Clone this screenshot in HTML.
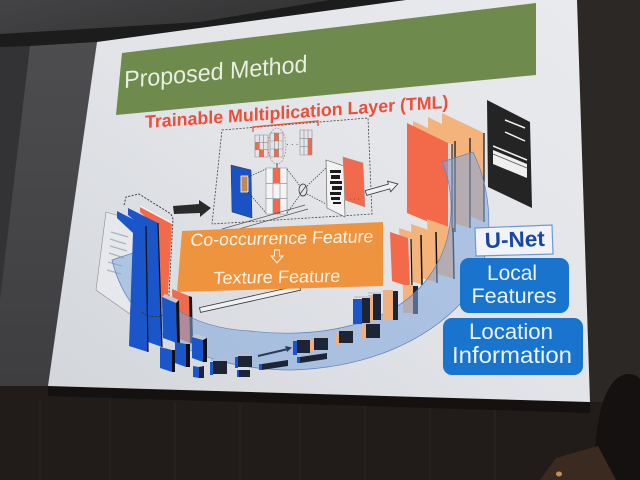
<!DOCTYPE html>
<html><head><meta charset="utf-8"><style>
html,body{margin:0;padding:0;background:#2b2826;width:640px;height:480px;overflow:hidden;}
svg{display:block;}
</style></head><body>
<svg width="640" height="480" viewBox="0 0 640 480" xmlns="http://www.w3.org/2000/svg" font-family="'Liberation Sans', 'DejaVu Sans', sans-serif">
<defs>
<linearGradient id="ceil" x1="0" y1="0" x2="1" y2="0.4">
<stop offset="0" stop-color="#444446"/><stop offset="1" stop-color="#333334"/>
</linearGradient>
<linearGradient id="slide" x1="0" y1="1" x2="1" y2="0">
<stop offset="0" stop-color="#d2d5da"/><stop offset="0.5" stop-color="#e2e4e8"/><stop offset="1" stop-color="#e8eaee"/>
</linearGradient>
<linearGradient id="lgray" x1="0" y1="0" x2="0" y2="1">
<stop offset="0" stop-color="#4d4d4f"/><stop offset="1" stop-color="#3e3e40"/>
</linearGradient>
</defs>

<rect width="640" height="480" fill="#2b2826"/>
<rect x="0" y="0" width="100" height="400" fill="#333234"/>
<polygon points="0,0 330,0 200,22 0,34" fill="url(#ceil)"/>
<polygon points="0,34 200,22 330,0 406,0 97,42 30,46 0,47" fill="#1c1c1d"/>
<polygon points="30,46 97,42 48,386 0,386 0,300" fill="url(#lgray)"/>
<polygon points="0,386 48,386 590,402 640,403 640,480 0,480" fill="#211c19"/>
<g stroke="#27211d" stroke-width="2">
<line x1="40" y1="400" x2="40" y2="480"/><line x1="110" y1="400" x2="110" y2="480"/>
<line x1="175" y1="402" x2="175" y2="480"/><line x1="240" y1="404" x2="240" y2="480"/>
<line x1="300" y1="405" x2="300" y2="480"/><line x1="365" y1="406" x2="365" y2="480"/>
<line x1="430" y1="408" x2="430" y2="480"/><line x1="495" y1="410" x2="495" y2="480"/>
</g>
<polygon points="48,386 590,402 590,413 48,396" fill="#141110"/>
<path d="M594,480 C594,420 604,376 628,374 C636,374 640,378 640,380 L640,480 Z" fill="#141110"/>
<polygon points="540,480 556,458 598,446 616,480" fill="#3a2a20"/>
<ellipse cx="559" cy="474" rx="3" ry="2.5" fill="#c89050"/>

<polygon points="97,42 406,0 577,0 590,402 48,386" fill="url(#slide)"/>

<polygon points="122,53 536,3 536,75 116,115" fill="#6e8a4c"/>
<text x="0" y="0" transform="translate(124,88) rotate(-5) skewX(-6)" font-size="24" fill="#e9eee2" textLength="184" lengthAdjust="spacingAndGlyphs">Proposed Method</text>

<text x="0" y="0" transform="translate(145,128) rotate(-3.8) skewX(-4)" font-size="18" font-weight="bold" fill="#e9503a" textLength="304" lengthAdjust="spacingAndGlyphs">Trainable Multiplication Layer (TML)</text>

<polygon points="222,130 368,118 372,214 212,224" fill="none" stroke="#444" stroke-width="0.8" stroke-dasharray="2,1.5"/>
<polyline points="253,132 253,127 318,121 318,126" fill="none" stroke="#e9503a" stroke-width="1.3"/>
<rect x="255" y="142.3" width="4.3" height="7.3" fill="#f06a4c"/>
<rect x="259.3" y="149.7" width="4.3" height="7.3" fill="#f06a4c"/>
<rect x="274.3" y="133" width="4.3" height="8" fill="#f06a4c"/>
<rect x="274.3" y="149" width="4.3" height="8" fill="#f06a4c"/>
<rect x="308" y="138.3" width="4" height="8.3" fill="#f06a4c"/>
<rect x="308" y="146.6" width="4" height="8.3" fill="#f06a4c"/>
<path d="M255,135h13v22h-13z M259.33,135v22 M263.67,135v22 M255,142.33h13 M255,149.67h13 M270,133h13v24h-13z M274.33,133v24 M278.67,133v24 M270,141h13 M270,149h13 M300,130h12v25h-12z M304,130v25 M308,130v25 M300,138.33h12 M300,146.67h12" fill="none" stroke="#8a8a8a" stroke-width="0.6"/>
<ellipse cx="277" cy="146" rx="9" ry="18" fill="none" stroke="#c06a6a" stroke-width="0.7" stroke-dasharray="1.5,1.5"/>
<text x="286" y="147" font-size="8" fill="#333">· · ·</text>
<line x1="277" y1="163" x2="277" y2="168" stroke="#333" stroke-width="0.8"/>
<polygon points="231,165 251,170 252,218 232,212" fill="#1a52c4" stroke="#333" stroke-width="0.5"/>
<rect x="241" y="176" width="7" height="16" fill="#c8884a" stroke="#fff" stroke-width="0.8"/>
<rect x="266" y="168" width="21" height="46" fill="#f4f4f4"/>
<rect x="273" y="168" width="7" height="15.3" fill="#f06a4c"/>
<rect x="273" y="198.7" width="7" height="15.3" fill="#f06a4c"/>
<path d="M266,168h21v46h-21z M273,168v46 M280,168v46 M266,183.33h21 M266,198.67h21" fill="none" stroke="#888" stroke-width="0.6"/>
<g stroke="#333" stroke-width="0.7" stroke-dasharray="1.5,1.2" fill="none">
<line x1="248" y1="177" x2="266" y2="169"/><line x1="248" y1="192" x2="266" y2="213"/>
<line x1="287" y1="169" x2="300" y2="186"/><line x1="287" y1="213" x2="300" y2="195"/>
<line x1="307" y1="186" x2="326" y2="168"/><line x1="307" y1="194" x2="326" y2="204"/>
</g>
<ellipse cx="303" cy="190" rx="4" ry="6" fill="none" stroke="#333" stroke-width="0.8"/>
<line x1="300" y1="194" x2="306" y2="186" stroke="#333" stroke-width="0.7"/>
<polygon points="326,160 344,166 345,217 327,208" fill="#f2f2f2" stroke="#555" stroke-width="0.6"/>
<g fill="#1b1b1b">
<rect x="330" y="170" width="11" height="3"/><rect x="331" y="175" width="9" height="4"/>
<rect x="330" y="181" width="12" height="3"/><rect x="332" y="186" width="10" height="4"/>
<rect x="330" y="192" width="11" height="3"/><rect x="331" y="197" width="9" height="3"/>
<rect x="333" y="202" width="8" height="2"/>
</g>
<polygon points="343,157 363,163 365,207 345,200" fill="#f26a4c" stroke="#999" stroke-width="0.6"/>
<text x="349" y="201" font-size="7" fill="#333">· · ·</text>
<polygon points="365.3,190.6 388.4,184.1 387.6,181.2 397.8,184 390.6,191.8 389.8,188.9 366.7,195.4" fill="#eef0f3" stroke="#333" stroke-width="0.8"/>
<line x1="222" y1="229" x2="305" y2="205" stroke="#555" stroke-width="0.7"/>
<line x1="232" y1="231" x2="308" y2="209" stroke="#555" stroke-width="0.7"/>

<polygon points="442,113 484,133 484,222 442,205" fill="#f5b37c"/>
<line x1="484" y1="133" x2="484" y2="222" stroke="#111" stroke-width="1.2"/>
<polygon points="428,117 470,138 470,228 428,215" fill="#f5b37c"/>
<line x1="470" y1="138" x2="470" y2="228" stroke="#111" stroke-width="1.2"/>
<polygon points="413,121 455,141 455,232 413,215" fill="#f5b37c"/>
<line x1="455" y1="141" x2="455" y2="232" stroke="#111" stroke-width="1.2"/>
<polygon points="448,143 452,144 452,232 448,230" fill="#d8d8d8"/>
<polygon points="407,123 448,143 448,230 407,213" fill="#f26a4a"/>
<line x1="452" y1="144" x2="452" y2="232" stroke="#111" stroke-width="1"/>
<polygon points="427,219 452,228 453,278 429,272" fill="#f5b37c"/>
<line x1="453" y1="228" x2="454" y2="279" stroke="#111" stroke-width="1.5"/>
<polygon points="411,224 435,232 436,282 413,276" fill="#f5b37c"/>
<line x1="436" y1="232" x2="437" y2="283" stroke="#111" stroke-width="1.5"/>
<polygon points="399,228 420,235 421,284 401,279" fill="#f5b37c"/>
<line x1="421" y1="235" x2="422" y2="285" stroke="#111" stroke-width="1.5"/>
<polygon points="408,238 411,239 412,288 410,287" fill="#d8d8d8"/>
<polygon points="390,232 408,238 410,287 392,281" fill="#f26a4a"/>
<line x1="411" y1="239" x2="412" y2="288" stroke="#111" stroke-width="1.2"/>
<rect x="403" y="285" width="10" height="28" fill="#f5b37c"/>
<rect x="413" y="286" width="5" height="28" fill="#1d2436"/>

<polygon points="106,212 140,222 130,314 96,290" fill="#e6e8ec" stroke="#8c8c90" stroke-width="0.6"/>
<g stroke="#b0b4bb" stroke-width="1.4">
<line x1="111" y1="232" x2="128" y2="237"/><line x1="110" y1="239" x2="126" y2="244"/>
<line x1="110" y1="246" x2="127" y2="251"/><line x1="109" y1="253" x2="124" y2="258"/>
<line x1="108" y1="262" x2="122" y2="266"/><line x1="107" y1="270" x2="121" y2="274"/>
</g>
<polygon points="140,205 172,222 167,310 158,306 158,228 140,212" fill="#f26a4a"/>
<polygon points="140,205 172,222 172,224 140,207" fill="#f4f4f4"/>
<polygon points="172,289 189,296 190,343 174,337" fill="#f06a4c"/>
<polygon points="189,296 192,297 193,344 190,343" fill="#1a1a1a"/>
<polygon points="199.5,307.6 299.5,285.4 300.5,290.2 200.5,312.4" fill="#eef0f3" stroke="#333" stroke-width="0.8"/>

<path d="M112,260 L136,252 C148,300 190,328 250,331 C330,340 400,320 430,275 C452,245 458,200 442,162 L473,152 C497,200 494,268 462,302 C425,342 365,368 292,370 C205,370 130,335 112,260 Z" fill="#7fa6dc" fill-opacity="0.55" stroke="#5a84c0" stroke-width="0.7"/>

<polygon points="182,231 383,222 383,286 177,292" fill="#ef943e"/>
<text x="0" y="0" transform="translate(190,246) rotate(-1.2) skewX(-6)" font-size="17.5" fill="#fbf3e8" textLength="183" lengthAdjust="spacingAndGlyphs">Co-occurrence Feature</text>
<polygon points="274.5,250 279.5,250 279.5,256 283,256 277,263 271,256 274.5,256" fill="none" stroke="#fbf3e8" stroke-width="1"/>
<text x="0" y="0" transform="translate(213,284) rotate(-1) skewX(-5)" font-size="17.5" fill="#fbf3e8" textLength="127" lengthAdjust="spacingAndGlyphs">Texture Feature</text>

<polygon points="173,206 199,204 199,200 211,208 200,217 200,213 174,214" fill="#2a2a2a"/>

<polygon points="128,208 158,223 162,347 148,342 146,230 128,215" fill="#1a55c9"/>
<line x1="158" y1="223" x2="162" y2="347" stroke="#111" stroke-width="1.2"/>
<polygon points="117,211 146,226 148,352 129,346 133,233 117,218" fill="#1a55c9"/>
<line x1="146" y1="226" x2="148" y2="352" stroke="#111" stroke-width="1.2"/>
<path d="M124,205 L126,197 L139,194 L171,214 L173,219 L168,312 M142,312 Q150,320 168,314" fill="none" stroke="#333" stroke-width="0.9" stroke-dasharray="2,1.5"/>
<polygon points="162,297 165,294 179,300 176,303" fill="#c4c8d0"/>
<polygon points="162,297 176,303 177,343 163,338" fill="#1a55c9"/>
<polygon points="176,303 179,300 180,345 177,343" fill="#111"/>
<polygon points="160,347 172,350 172,372 160,368" fill="#1a55c9"/>
<polygon points="172,350 175,350 175,372 172,372" fill="#111"/>
<polygon points="175,342 186,344 186,367 175,363" fill="#1a55c9"/>
<polygon points="186,344 190,344 190,367 186,367" fill="#111"/>
<polygon points="192,337 203,340 203,362 192,358" fill="#1a55c9"/>
<polygon points="192,337 195,334 206,337 203,340" fill="#c4c8d0"/>
<polygon points="203,340 207,338 207,362 203,362" fill="#111"/>
<polygon points="193,366 199,367 199,378 193,377" fill="#1a55c9"/>
<polygon points="199,367 204,366 204,378 199,378" fill="#1d2436"/>

<g>
<rect x="210" y="362" width="3" height="13" fill="#1a55c9"/><rect x="213" y="361" width="14" height="13" fill="#1d2436"/><rect x="211" y="359" width="16" height="2" fill="#b8bec8"/>
<rect x="235" y="357" width="3" height="11" fill="#1a55c9"/><rect x="238" y="356" width="14" height="11" fill="#1d2436"/><rect x="236" y="354" width="16" height="2" fill="#b8bec8"/>
<rect x="237" y="370" width="2" height="7" fill="#1a55c9"/><rect x="239" y="370" width="11" height="7" fill="#1d2436"/>
<polygon points="259,364 262,364 262,370 259,370" fill="#1a55c9"/><polygon points="262,364 288,360 288,366 262,370" fill="#1d2436"/>
<line x1="258" y1="356" x2="286" y2="349.5" stroke="#2c3a5a" stroke-width="2"/><polygon points="285,346 292,347.5 287,352" fill="#2c3a5a"/>
<rect x="293" y="341" width="4" height="14" fill="#1a55c9"/><rect x="297" y="340" width="13" height="13" fill="#1d2436"/><rect x="294" y="338" width="16" height="2" fill="#b8bec8"/>
<rect x="310" y="339" width="4" height="13" fill="#f0b080"/><rect x="314" y="338" width="14" height="12" fill="#1d2436"/><rect x="311" y="336" width="17" height="2" fill="#b8bec8"/>
<polygon points="297,357 300,357 300,363 297,363" fill="#1a55c9"/><polygon points="300,357 327,353 327,359 300,363" fill="#1d2436"/>
<rect x="335" y="333" width="4" height="12" fill="#f0b080"/><rect x="339" y="331" width="14" height="12" fill="#1d2436"/><rect x="336" y="329" width="17" height="2" fill="#b8bec8"/>
<rect x="362" y="326" width="4" height="14" fill="#f0b080"/><rect x="366" y="324" width="14" height="14" fill="#1d2436"/>
<rect x="368" y="295" width="5" height="26" fill="#f0b080"/><rect x="373" y="294" width="8" height="26" fill="#1d2436"/><rect x="368" y="292" width="13" height="2" fill="#c8ccd4"/>
<rect x="353" y="299" width="9" height="25" fill="#1a55c9"/><rect x="362" y="298" width="8" height="25" fill="#1d2436"/><rect x="354" y="296" width="16" height="2" fill="#c8ccd4"/>
<rect x="383" y="290" width="10" height="29" fill="#f0b080"/><rect x="393" y="291" width="5" height="29" fill="#1d2436"/>
</g>

<polygon points="487,100 530,122 532,208 488,187" fill="#242424"/>
<g stroke="#f2f2f2" stroke-width="1.5">
<line x1="505" y1="120" x2="525" y2="128"/><line x1="505" y1="132" x2="525" y2="141"/>
<line x1="493" y1="146" x2="527" y2="160"/>
</g>
<polygon points="493,150 527,164 527,178 493,164" fill="#efefef"/>
<line x1="493" y1="154" x2="527" y2="168" stroke="#555" stroke-width="0.8"/>

<polygon points="475,228 552,225 553,254 476,256" fill="#f2f3f6" stroke="#6b9bd6" stroke-width="1.2"/>
<text x="0" y="0" transform="translate(485,248) rotate(-2)" font-size="22" font-weight="bold" fill="#1747a6" textLength="60" lengthAdjust="spacingAndGlyphs">U-Net</text>
<rect x="460" y="258" width="109" height="55" rx="9" fill="#1874cc"/>
<text x="512" y="280" text-anchor="middle" font-size="21" fill="#eef4fb" textLength="50" lengthAdjust="spacingAndGlyphs">Local</text>
<text x="514" y="303" text-anchor="middle" font-size="21.5" fill="#eef4fb" textLength="85" lengthAdjust="spacingAndGlyphs">Features</text>
<rect x="443" y="318" width="140" height="57" rx="9" fill="#1874cc"/>
<text x="511" y="339" text-anchor="middle" font-size="22" fill="#eef4fb" textLength="84" lengthAdjust="spacingAndGlyphs">Location</text>
<text x="512" y="363" text-anchor="middle" font-size="23" fill="#eef4fb" textLength="120" lengthAdjust="spacingAndGlyphs">Information</text>
</svg>
</body></html>
